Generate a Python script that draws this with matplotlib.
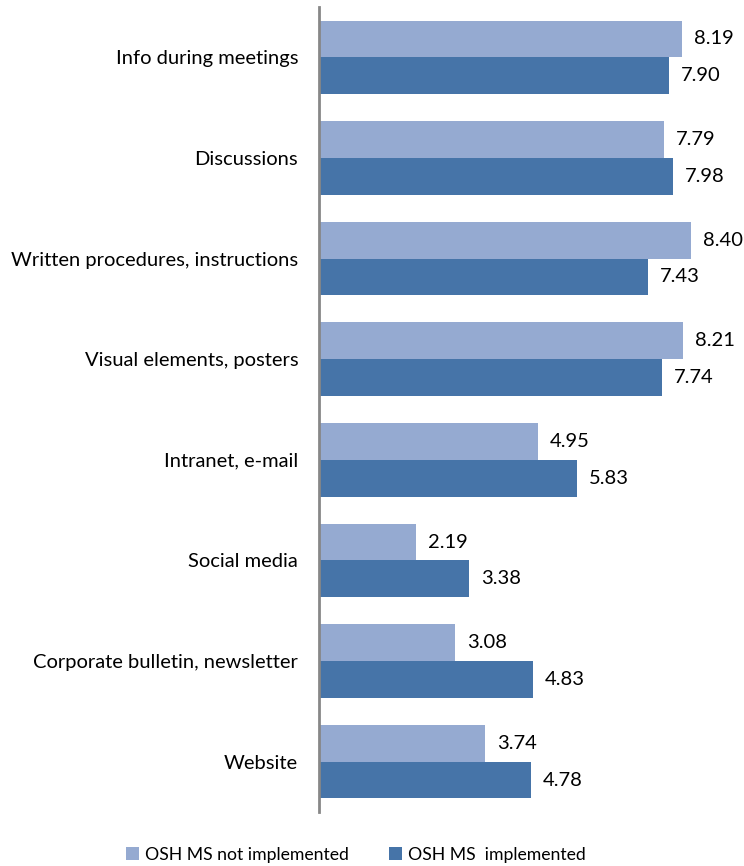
import matplotlib
matplotlib.use("Agg")
import matplotlib.pyplot as plt
import numpy as np

plt.rcParams['font.family'] = ['Lato', 'DejaVu Sans']

categories = ["Info during meetings", "Discussions", "Written procedures, instructions",
              "Visual elements, posters", "Intranet, e-mail", "Social media",
              "Corporate bulletin, newsletter", "Website"]
not_impl = [8.19, 7.79, 8.40, 8.21, 4.95, 2.19, 3.08, 3.74]
impl = [7.90, 7.98, 7.43, 7.74, 5.83, 3.38, 4.83, 4.78]
series_names = ["OSH MS not implemented", "OSH MS  implemented"]

light = '#95AAD1'
dark = '#4674A8'
fs = 14.5

fig = plt.figure(figsize=(7.44, 8.66), dpi=100)
ax = fig.add_axes([319/744, 1 - 812/866, 1 - 319/744, (812 - 7)/866])

y = np.arange(len(categories))
h = 0.365
ax.barh(y - h/2, not_impl, height=h, color=light, label=series_names[0])
ax.barh(y + h/2, impl, height=h, color=dark, label=series_names[1])

for yi, v in zip(y, not_impl):
    ax.text(v + 0.27, yi - h/2, f"{v:.2f}", va='center', ha='left', fontsize=fs)
for yi, v in zip(y, impl):
    ax.text(v + 0.27, yi + h/2, f"{v:.2f}", va='center', ha='left', fontsize=fs)

ax.set_xlim(0, 425/44.3)
ax.set_ylim(len(categories) - 0.5, -0.5)
ax.set_yticks(y)
ax.set_yticklabels(categories, fontsize=fs)
ax.tick_params(axis='y', length=0, pad=15)
ax.set_xticks([])
for s in ['top', 'right', 'bottom']:
    ax.spines[s].set_visible(False)
ax.spines['left'].set_color('#878787')
ax.spines['left'].set_linewidth(2)

fig.legend(loc='center', bbox_to_anchor=(0.478, 1 - 855/866), ncol=2, frameon=False,
           fontsize=12.7, handlelength=0.75, handleheight=0.75, handletextpad=0.3,
           columnspacing=2.3)

fig.savefig('out.png', dpi=100)
